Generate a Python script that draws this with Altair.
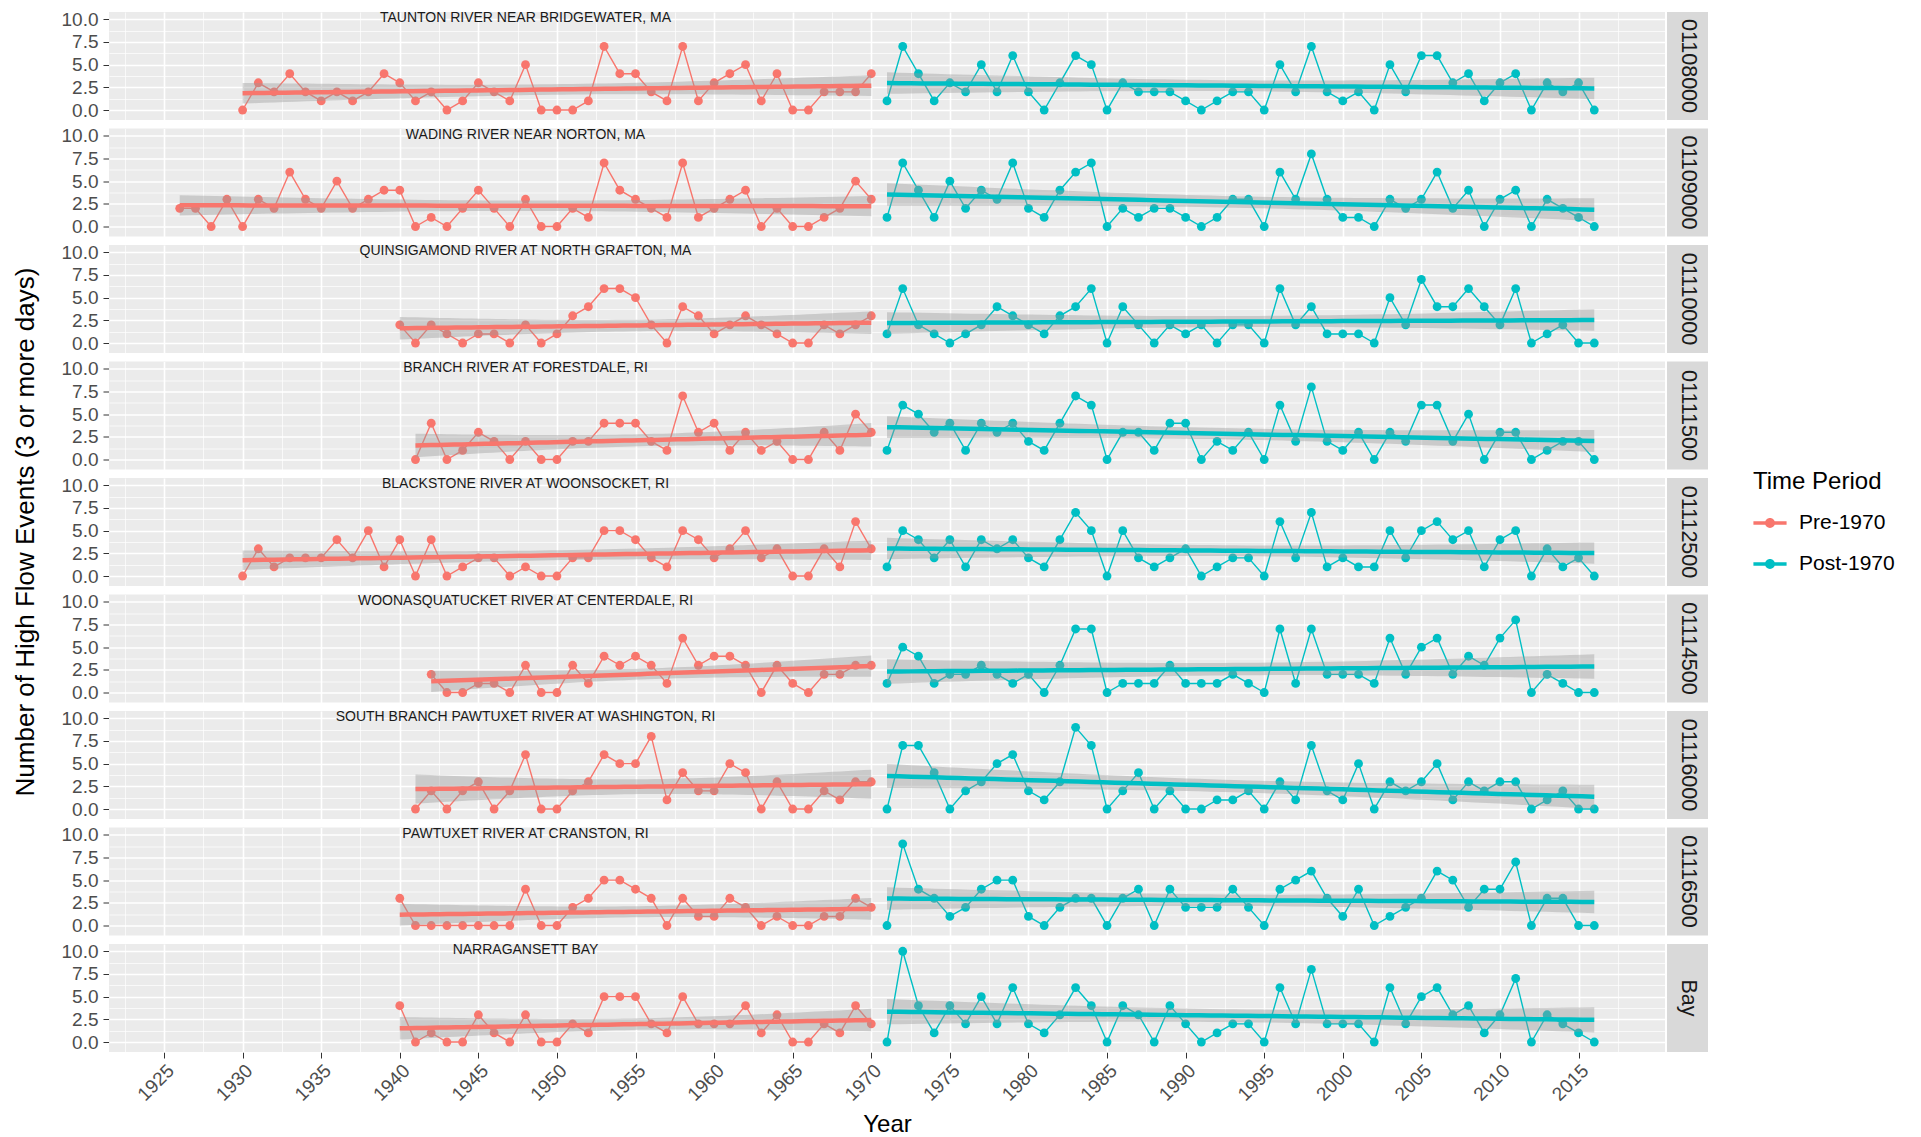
import altair as alt
import pandas as pd
import numpy as np

stations = ["01108000", "01109000", "01110000", "01111500", "01112500",
            "01114500", "01116000", "01116500", "Bay"]
names = ["TAUNTON RIVER NEAR BRIDGEWATER, MA",
         "WADING RIVER NEAR NORTON, MA",
         "QUINSIGAMOND RIVER AT NORTH GRAFTON, MA",
         "BRANCH RIVER AT FORESTDALE, RI",
         "BLACKSTONE RIVER AT WOONSOCKET, RI",
         "WOONASQUATUCKET RIVER AT CENTERDALE, RI",
         "SOUTH BRANCH PAWTUXET RIVER AT WASHINGTON, RI",
         "PAWTUXET RIVER AT CRANSTON, RI",
         "NARRAGANSETT BAY"]
pre_start = [1930, 1926, 1940, 1941, 1930, 1942, 1941, 1940, 1940]
post_start = 1971

taunton_pre = [0,3,2,4,2,1,2,1,2,4,3,1,2,0,1,3,2,1,5,0,0,0,1,7,4,4,2,1,7,1,3,4,5,1,4,0,0,2,2,2,4]
taunton_post = [1,7,4,1,3,2,5,2,6,2,0,3,6,5,0,3,2,2,2,1,0,1,2,2,0,5,2,7,2,1,2,0,5,2,6,6,3,4,1,3,4,0,3,2,3,0]
wading_pre = [2,2,0,3,0,3,2,6,3,2,5,2,3,4,4,0,1,0,2,4,2,0,3,0,0,2,1,7,4,3,2,1,7,1,2,3,4,0,2,0,0,1,2,5,3]
wading_post = [1,7,4,1,5,2,4,3,7,2,1,4,6,7,0,2,1,2,2,1,0,1,3,3,0,6,3,8,3,1,1,0,3,2,3,6,2,4,0,3,4,0,3,2,1,0]
quins_pre = [2,0,2,1,0,1,1,0,2,0,1,3,4,6,6,5,2,0,4,3,1,2,3,2,1,0,0,2,1,2,3]
quins_post = [1,6,2,1,0,1,2,4,3,2,1,3,4,6,0,4,2,0,2,1,2,0,2,2,0,6,2,4,1,1,1,0,5,2,7,4,4,6,4,2,6,0,1,2,0,0]
branch_pre = [0,4,0,1,3,2,0,2,0,0,2,2,4,4,4,2,1,7,3,4,1,3,1,2,0,0,3,1,5,3]
branch_post = [1,6,5,3,4,1,4,3,4,2,1,4,7,6,0,3,3,1,4,4,0,2,1,3,0,6,2,8,2,1,3,0,3,2,6,6,2,5,0,3,3,0,1,2,2,0]
black_pre = [0,3,1,2,2,2,4,2,5,1,4,0,4,0,1,2,2,0,1,0,0,2,2,5,5,4,2,1,5,4,2,3,5,2,3,0,0,3,1,6,3]
black_post = [1,5,4,2,4,1,4,3,4,2,1,4,7,5,0,5,2,1,2,3,0,1,2,2,0,6,2,7,1,2,1,1,5,2,5,6,4,5,1,4,5,0,3,1,2,0]
woon_pre = [2,0,0,1,1,0,3,0,0,3,1,4,3,4,3,1,6,3,4,4,3,0,3,1,0,2,2,3,3]
woon_post = [1,5,4,1,2,2,3,2,1,2,0,3,7,7,0,1,1,1,3,1,1,1,2,1,0,7,1,7,2,2,2,1,6,2,5,6,2,4,3,6,8,0,2,1,0,0]
sbp_pre = [0,2,0,2,3,0,2,6,0,0,2,3,6,5,5,8,1,4,2,2,5,4,0,3,0,0,2,1,3,3]
sbp_post = [0,7,7,4,0,2,3,5,6,2,1,3,9,7,0,2,4,0,2,0,0,1,1,2,0,3,1,7,2,1,5,0,3,2,3,5,1,3,2,3,3,0,1,2,0,0]
cran_pre = [3,0,0,0,0,0,0,0,4,0,0,2,3,5,5,4,3,0,3,1,1,3,2,0,1,0,0,1,1,3,2]
cran_post = [0,9,4,3,1,2,4,5,5,1,0,2,3,3,0,3,4,0,4,2,2,2,4,2,0,4,5,6,3,1,4,0,1,2,3,6,5,2,4,4,7,0,3,3,0,0]
bay_pre = [4,0,1,0,0,3,1,0,3,0,0,2,1,5,5,5,2,1,5,2,2,2,4,1,3,0,0,2,1,4,2]
bay_post = [0,10,4,1,4,2,5,2,6,2,1,3,6,4,0,4,3,0,4,2,0,1,2,2,0,6,2,8,2,2,2,0,6,2,5,6,3,4,1,3,7,0,3,2,1,0]

pre_counts = [taunton_pre, wading_pre, quins_pre, branch_pre, black_pre,
              woon_pre, sbp_pre, cran_pre, bay_pre]
post_counts = [taunton_post, wading_post, quins_post, branch_post, black_post,
               woon_post, sbp_post, cran_post, bay_post]

periods = ["Pre-1970", "Post-1970"]
colors = ["#F8766D", "#00BFC4"]

rows = []
for st, nm, ps, pre, post in zip(stations, names, pre_start, pre_counts, post_counts):
    for i, v in enumerate(pre):
        rows.append(dict(station=st, name=nm, year=ps + i, count=v, period="Pre-1970", kind="obs"))
    for i, v in enumerate(post):
        rows.append(dict(station=st, name=nm, year=post_start + i, count=v, period="Post-1970", kind="obs"))
obs = pd.DataFrame(rows)


def tcrit(df):
    z = 1.959964
    return z + (z**3 + z) / (4 * df) + (5 * z**5 + 16 * z**3 + 3 * z) / (96 * df**2)


fits = []
for (st, per), g in obs.groupby(["station", "period"]):
    x = g["year"].values.astype(float)
    y = g["count"].values.astype(float)
    n = len(x)
    xb = x.mean()
    sxx = ((x - xb) ** 2).sum()
    b = ((x - xb) * (y - y.mean())).sum() / sxx
    a = y.mean() - b * xb
    s = np.sqrt(((y - (a + b * x)) ** 2).sum() / (n - 2))
    t = tcrit(n - 2)
    xs = np.linspace(x.min(), x.max(), 60)
    f = a + b * xs
    se = s * np.sqrt(1.0 / n + (xs - xb) ** 2 / sxx)
    for xv, fv, ev in zip(xs, f, se):
        fits.append(dict(station=st, period=per, year=xv, fit=fv,
                         lo=fv - t * ev, hi=fv + t * ev, kind="fit"))
fitdf = pd.DataFrame(fits)
data = pd.concat([obs, fitdf], ignore_index=True)

W = 1556
H = 108
FONT = "Liberation Sans"

xscale = alt.Scale(domain=[1921.5, 2020.5], nice=False, zero=False)
yscale = alt.Scale(domain=[-1.1, 10.8], nice=False, zero=False)
cscale = alt.Scale(domain=periods, range=colors)

legend_path = ("M-1,-0.11L1,-0.11L1,0.11L-1,0.11Z "
               "M-0.3,0A0.3,0.3,0,1,1,0.3,0A0.3,0.3,0,1,1,-0.3,0Z")
legend = alt.Legend(title="Time Period", orient="none", legendX=1644, legendY=458,
                    symbolType=legend_path, symbolSize=1100, symbolStrokeWidth=0,
                    labelOffset=12)
color_enc = alt.Color("period:N", scale=cscale, legend=legend)

x_major = alt.Axis(values=list(range(1925, 2016, 5)), format="d", labelAngle=315,
                   labelAlign="right", labelBaseline="top", title="Year",
                   grid=True, gridColor="white", gridWidth=1.6,
                   tickSize=6, labelPadding=3, titlePadding=8)
x_minor = alt.Axis(values=[1922.5 + 5 * k for k in range(20)], grid=True,
                   gridColor="white", gridWidth=0.7, labels=False, ticks=False,
                   domain=False, title=None)
y_major = alt.Axis(values=[0, 2.5, 5, 7.5, 10], format=".1f", title=None, grid=True,
                   gridColor="white", gridWidth=1.6, tickSize=6, labelPadding=5)
y_minor = alt.Axis(values=[1.25, 3.75, 6.25, 8.75], grid=True, gridColor="white",
                   gridWidth=0.7, labels=False, ticks=False, domain=False, title=None)

obs_filter = alt.datum.kind == "obs"
fit_filter = alt.datum.kind == "fit"

lines = alt.Chart().transform_filter(obs_filter).mark_line(strokeWidth=1.4).encode(
    x=alt.X("year:Q", scale=xscale, axis=x_major),
    y=alt.Y("count:Q", scale=yscale, axis=y_major),
    color=color_enc,
)

points = alt.Chart().transform_filter(obs_filter).mark_circle(size=78, opacity=1).encode(
    x=alt.X("year:Q", scale=xscale, axis=None),
    y=alt.Y("count:Q", scale=yscale, axis=None),
    color=color_enc,
)

ribbon = alt.Chart().transform_filter(fit_filter).mark_area(
    color="#999999", opacity=0.4).encode(
    x=alt.X("year:Q", scale=xscale, axis=x_minor),
    y=alt.Y("lo:Q", scale=yscale, axis=y_minor),
    y2="hi:Q",
    detail="period:N",
)

smooth = alt.Chart().transform_filter(fit_filter).mark_line(strokeWidth=4.5).encode(
    x=alt.X("year:Q", scale=xscale, axis=None),
    y=alt.Y("fit:Q", scale=yscale, axis=None),
    color=color_enc,
)

label = alt.Chart().transform_filter(obs_filter).transform_aggregate(
    n="count()", groupby=["station", "name"]).mark_text(
    fontSize=14, font=FONT, color="#1A1A1A", baseline="middle", align="center").encode(
    x=alt.X(datum=1948, scale=xscale, axis=None),
    y=alt.Y(datum=10.1, scale=yscale, axis=None),
    text="name:N",
)

strip = alt.Chart().transform_filter(obs_filter).transform_aggregate(
    n="count()", groupby=["station"]).mark_rect(color="#D9D9D9").encode(
    x=alt.value(W + 2), x2=alt.value(W + 43), y=alt.value(0), y2=alt.value(H))

strip_text = alt.Chart().transform_filter(obs_filter).transform_aggregate(
    n="count()", groupby=["station"]).mark_text(
    angle=90, fontSize=21.5, font=FONT, color="#1A1A1A", baseline="middle",
    align="center").encode(
    x=alt.value(W + 22.5), y=alt.value(H / 2), text="station:N")

layered = alt.layer(lines, points, ribbon, smooth, label, strip, strip_text).properties(
    width=W, height=H).resolve_axis(x="independent", y="independent")

chart = layered.facet(
    row=alt.Row("station:N", sort=stations,
                header=alt.Header(labels=False,
                                  title="Number of High Flow Events (3 or more days)",
                                  titleOrient="left", titleFontSize=26,
                                  titleFont=FONT, titleFontWeight="normal",
                                  titleColor="black", titlePadding=12)),
    data=data,
    spacing=7.5,
).configure(
    padding={"left": 12, "top": 10, "right": 5, "bottom": 5},
    background="white",
).configure_view(
    stroke=None, fill="#EBEBEB"
).configure_axis(
    labelFont=FONT, labelFontSize=19, labelColor="#4D4D4D",
    tickColor="#333333", domain=False,
    titleFont=FONT, titleFontSize=24, titleFontWeight="normal", titleColor="black",
).configure_legend(
    titleFont=FONT, titleFontSize=24, titleFontWeight="normal", titleColor="black",
    labelFont=FONT, labelFontSize=21, labelColor="black", rowPadding=14,
    titlePadding=12,
)

chart.save("out.html", embed_options={"renderer": "svg", "actions": False})
